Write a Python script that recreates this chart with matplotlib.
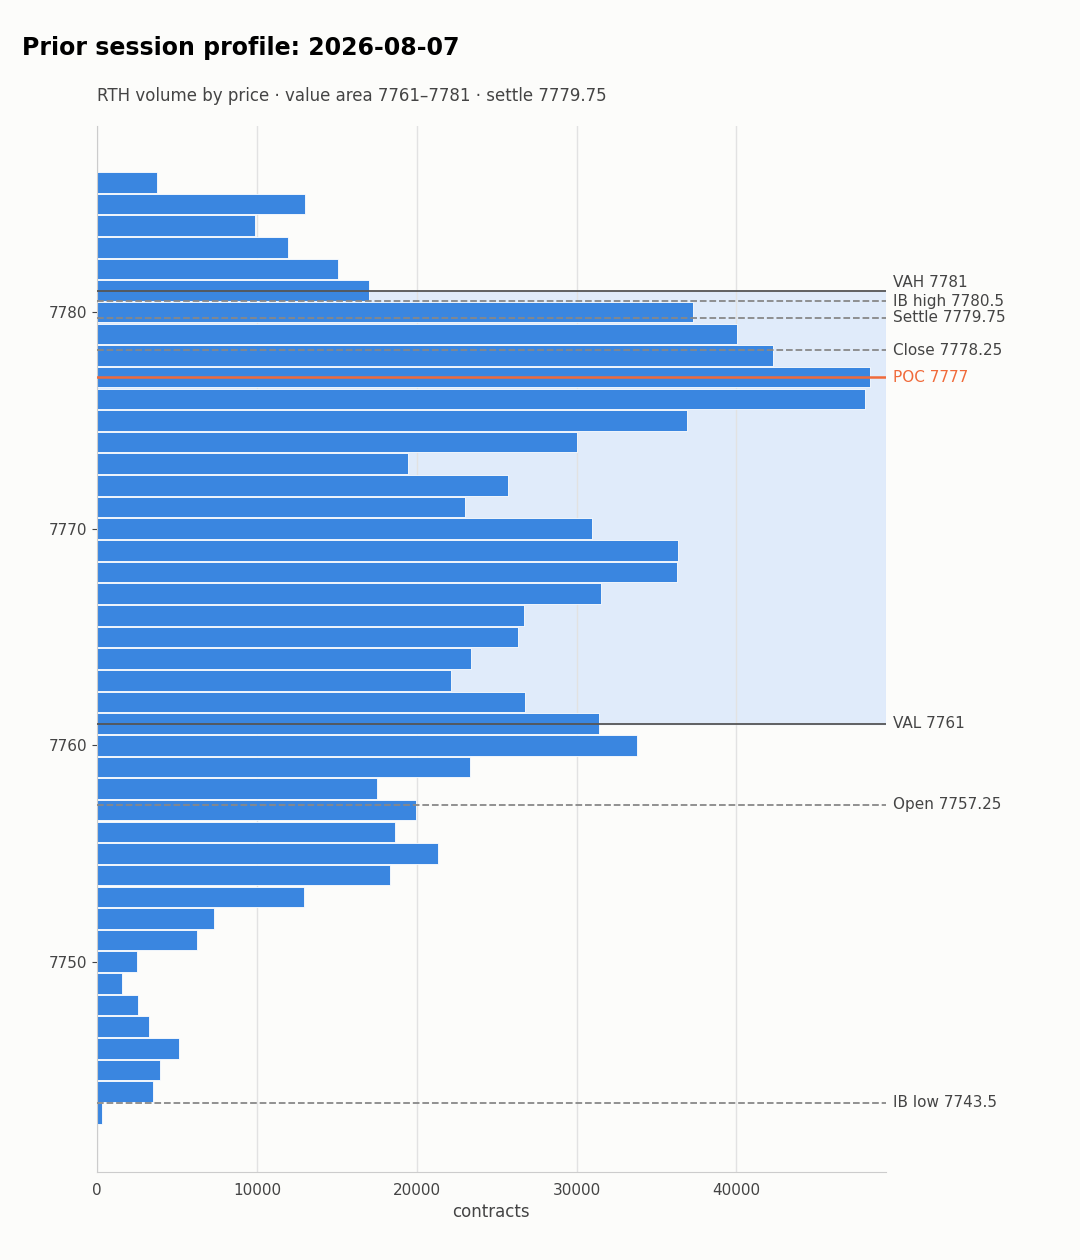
import numpy as np
import matplotlib
matplotlib.use("Agg")
import matplotlib.pyplot as plt

prices = np.arange(7786, 7742, -1)
volumes = [3750, 13000, 9875, 11940, 15060, 17000, 37310, 40060, 42310, 48375,
           48060, 36940, 30000, 19440, 25690, 23000, 30940, 36375, 36310, 31560,
           26690, 26310, 23375, 22125, 26750, 31375, 33810, 23310, 17500, 19940,
           18625, 21310, 18310, 12940, 7310, 6250, 2500, 1560, 2560, 3250,
           5125, 3940, 3500, 310]

vah, val = 7781, 7761
poc = 7777
dashed_levels = [(7780.5, "IB high 7780.5"), (7779.75, "Settle 7779.75"),
                 (7778.25, "Close 7778.25"), (7757.25, "Open 7757.25"),
                 (7743.5, "IB low 7743.5")]

bg = "#fcfcfa"
fig = plt.figure(figsize=(10.8, 12.6), dpi=100, facecolor=bg)
ax = fig.add_axes([0.09, 0.07, 0.73, 0.83], facecolor=bg)

xmax = max(volumes) * 1.02
ax.set_xlim(0, xmax)
ax.set_ylim(7740.3, 7788.6)

ax.axhspan(val, vah, color="#dce9fb", alpha=0.85, zorder=0)
ax.barh(prices, volumes, height=0.95, color="#3a86e0", edgecolor="white",
        linewidth=0.6, zorder=2)

ax.axhline(vah, color="#555555", lw=1.3, zorder=3)
ax.axhline(val, color="#555555", lw=1.3, zorder=3)
ax.axhline(poc, color="#f06a3a", lw=1.8, zorder=3)
for lvl, _ in dashed_levels:
    ax.axhline(lvl, color="#888888", lw=1.3, ls="--", zorder=3)

labels = [(vah, "VAH 7781", "#444444"), (val, "VAL 7761", "#444444"),
          (poc, "POC 7777", "#f06a3a")] + [(l, t, "#444444") for l, t in dashed_levels]
for lvl, txt, c in labels:
    y = lvl
    if txt.startswith("VAH"):
        y += 0.35
    ax.text(1.01, y, txt, transform=ax.get_yaxis_transform(), va="center",
            ha="left", fontsize=11, color=c, clip_on=False)

ax.set_yticks([7750, 7760, 7770, 7780])
ax.set_xticks([0, 10000, 20000, 30000, 40000])
ax.tick_params(colors="#444444", labelsize=11)
ax.tick_params(axis="x", length=0, pad=8)
ax.grid(axis="x", color="#e2e2e2", lw=1, zorder=0)
ax.set_axisbelow(True)
for s in ["top", "right"]:
    ax.spines[s].set_visible(False)
for s in ["left", "bottom"]:
    ax.spines[s].set_color("#cccccc")
ax.set_xlabel("contracts", fontsize=12, color="#444444")

fig.text(0.02, 0.962, "Prior session profile: 2026-08-07", fontsize=17,
         fontweight="bold", ha="left", va="center")
ax.text(0, 1.02, "RTH volume by price · value area 7761–7781 · settle 7779.75",
        transform=ax.transAxes, fontsize=12, color="#444444", ha="left", va="bottom")

fig.savefig("out.png", dpi=100, facecolor=bg)
